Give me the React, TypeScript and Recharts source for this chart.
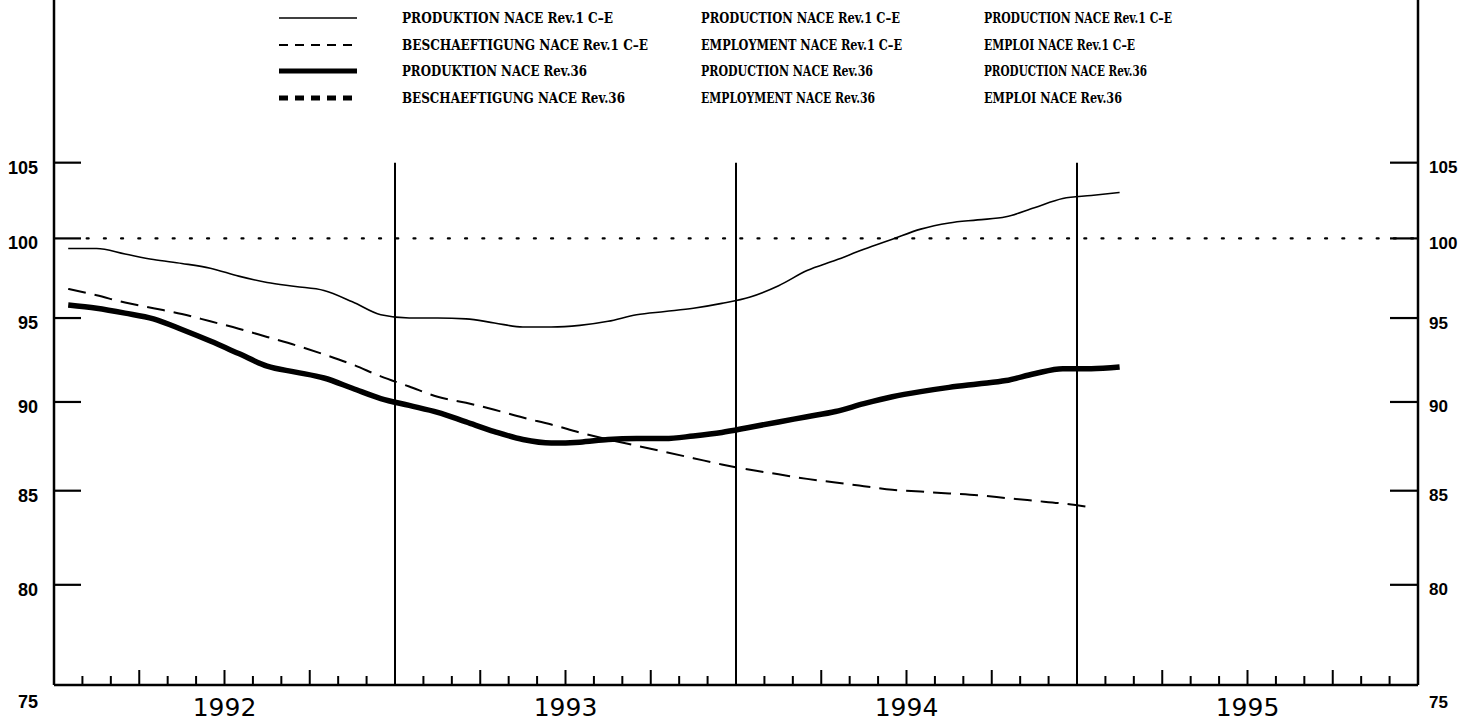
import React from 'react';
import { ComposedChart, Line, XAxis, YAxis, ReferenceLine } from 'recharts';

// ---- data (monthly, Jan 1992 = index 0) ----
const yearLabels = ['1992', '1993', '1994', '1995'];
const yTicks = [75, 80, 85, 90, 95, 100, 105];

const prodRev1 = [
  99.35, 99.35, 99.0, 98.65, 98.4, 98.1, 97.6, 97.2, 96.95, 96.7, 96.0, 95.2,
  95.0, 95.0, 94.95, 94.7, 94.45, 94.45, 94.55, 94.8, 95.2, 95.4, 95.6, 95.9,
  96.3, 97.0, 97.95, 98.6, 99.3, 99.95, 100.6, 101.0, 101.2, 101.4, 102.0, 102.6,
  102.8, 103.0,
];
const emplRev1 = [
  96.8, 96.4, 95.95, 95.6, 95.25, 94.8, 94.35, 93.85, 93.35, 92.8, 92.2, 91.5,
  90.9, 90.3, 89.95, 89.55, 89.1, 88.7, 88.25, 87.85, 87.5, 87.15, 86.8, 86.45,
  86.15, 85.9, 85.65, 85.45, 85.25, 85.05, 84.95, 84.85, 84.75, 84.6, 84.45, 84.3,
  84.1,
];
const prodRev36 = [
  95.8, 95.6, 95.3, 94.95, 94.3, 93.6, 92.85, 92.1, 91.75, 91.4, 90.8, 90.2,
  89.8, 89.4, 88.85, 88.3, 87.85, 87.65, 87.7, 87.85, 87.9, 87.9, 88.05, 88.25,
  88.55, 88.85, 89.15, 89.45, 89.9, 90.3, 90.6, 90.85, 91.05, 91.25, 91.65, 91.95,
  91.95, 92.05,
];
const emplRev36: number[] = [];

const legendDE = [
  'PRODUKTION NACE Rev.1 C\u2013E',
  'BESCHAEFTIGUNG NACE Rev.1 C\u2013E',
  'PRODUKTION NACE Rev.36',
  'BESCHAEFTIGUNG NACE Rev.36',
];
const legendEN = [
  'PRODUCTION NACE Rev.1 C\u2013E',
  'EMPLOYMENT NACE Rev.1 C\u2013E',
  'PRODUCTION NACE Rev.36',
  'EMPLOYMENT NACE Rev.36',
];
const legendFR = [
  'PRODUCTION NACE Rev.1 C\u2013E',
  'EMPLOI NACE Rev.1 C\u2013E',
  'PRODUCTION NACE Rev.36',
  'EMPLOI NACE Rev.36',
];

const nMonths = Math.max(prodRev1.length, emplRev1.length, prodRev36.length);
const data = Array.from({ length: nMonths }, (_, i) => ({
  t: i + 0.5,
  prodRev1: prodRev1[i],
  emplRev1: emplRev1[i],
  prodRev36: prodRev36[i],
  emplRev36: emplRev36[i],
}));

const monthTicks = Array.from({ length: 49 }, (_, i) => i);

const W = 1459;
const H = 721;
const Y_DOMAIN: [number, number] = [75, 116.6];

const XTick = (props: any) => {
  const { x, y, payload } = props;
  const v = payload.value as number;
  if (v % 12 === 0) return <g />;
  const major = v % 3 === 0;
  const len = major ? 15 : 9;
  const yr = v % 12 === 6 ? yearLabels[Math.floor(v / 12)] : null;
  return (
    <g>
      <line x1={x} x2={x} y1={y} y2={y - len} stroke="#000" strokeWidth={2} />
      {yr && (
        <text x={x} y={y + 31} textAnchor="middle" fontFamily="DejaVu Sans" fontSize={25} fill="#000">
          {yr}
        </text>
      )}
    </g>
  );
};

const LeftTick = (props: any) => {
  const { x, y, payload } = props;
  const v = payload.value as number;
  const dy = v === 75 ? 17 : 5;
  return (
    <g>
      {v !== 75 && <line x1={x} x2={x + 27} y1={y} y2={y} stroke="#000" strokeWidth={2.2} />}
      <text x={x - 16} y={y + dy} textAnchor="end" dominantBaseline="central" fontFamily="Liberation Sans" fontWeight="bold" fontSize={18} fill="#000">
        {v}
      </text>
    </g>
  );
};

const RightTick = (props: any) => {
  const { x, y, payload } = props;
  const v = payload.value as number;
  const dy = v === 75 ? 17 : 5;
  return (
    <g>
      {v !== 75 && <line x1={x - 28} x2={x} y1={y} y2={y} stroke="#000" strokeWidth={2.2} />}
      <text x={x + 11} y={y + dy} textAnchor="start" dominantBaseline="central" fontFamily="Liberation Sans" fontWeight="bold" fontSize={17} fill="#000">
        {v}
      </text>
    </g>
  );
};

const legendRows = [18, 45, 71, 98];
const col1W = [211, 246, 185, 223];
const col2W = [199, 201, 172, 174];
const col3W = [188, 151, 163, 138];

const LegendOverlay = () => (
  <svg width={W} height={130} style={{ position: 'absolute', left: 0, top: 0 }}>
    <line x1={279} x2={357} y1={legendRows[0]} y2={legendRows[0]} stroke="#000" strokeWidth={1.6} />
    <line x1={279} x2={357} y1={legendRows[1]} y2={legendRows[1]} stroke="#000" strokeWidth={1.8} strokeDasharray="9 7" />
    <line x1={279} x2={357} y1={legendRows[2]} y2={legendRows[2]} stroke="#000" strokeWidth={5} />
    <line x1={279} x2={357} y1={legendRows[3]} y2={legendRows[3]} stroke="#000" strokeWidth={5} strokeDasharray="9 7" />
    {legendRows.map((ry, i) => (
      <g key={i} fontFamily="DejaVu Serif" fontWeight="bold" fontSize={15} fill="#000">
        <text x={402} y={ry} dominantBaseline="central" textLength={col1W[i]} lengthAdjust="spacingAndGlyphs">{legendDE[i]}</text>
        <text x={701} y={ry} dominantBaseline="central" textLength={col2W[i]} lengthAdjust="spacingAndGlyphs">{legendEN[i]}</text>
        <text x={984} y={ry} dominantBaseline="central" textLength={col3W[i]} lengthAdjust="spacingAndGlyphs">{legendFR[i]}</text>
      </g>
    ))}
  </svg>
);

export default function App() {
  return (
    <div style={{ position: 'absolute', left: 0, top: 0, width: W, height: H, background: '#fff' }}>
      <ComposedChart width={W} height={H} data={data} margin={{ top: 0, right: 0, bottom: 0, left: 0 }}>
        <XAxis
          dataKey="t"
          type="number"
          domain={[0, 48]}
          ticks={monthTicks}
          interval={0}
          allowDataOverflow
          height={36}
          tickSize={0}
          tickMargin={0}
          tick={<XTick />}
          axisLine={{ stroke: '#000', strokeWidth: 2.5 }}
          tickLine={false}
        />
        <YAxis
          yAxisId="left"
          orientation="left"
          scale="log"
          type="number"
          domain={Y_DOMAIN}
          ticks={yTicks}
          interval={0}
          allowDataOverflow
          width={54}
          tickSize={0}
          tickMargin={0}
          tick={<LeftTick />}
          axisLine={{ stroke: '#000', strokeWidth: 2.5 }}
          tickLine={false}
        />
        <YAxis
          yAxisId="right"
          orientation="right"
          scale="log"
          type="number"
          domain={Y_DOMAIN}
          ticks={yTicks}
          interval={0}
          allowDataOverflow
          width={41}
          tickSize={0}
          tickMargin={0}
          tick={<RightTick />}
          axisLine={{ stroke: '#000', strokeWidth: 2.5 }}
          tickLine={false}
        />
        <ReferenceLine
          yAxisId="left"
          segment={[{ x: 1.15, y: 100 }, { x: 48, y: 100 }]}
          stroke="#000"
          strokeWidth={2.2}
          strokeDasharray="2 15.2"
          strokeLinecap="round"
        />
        {[12, 24, 36].map((m) => (
          <ReferenceLine
            key={m}
            yAxisId="left"
            segment={[{ x: m, y: 75 }, { x: m, y: 105 }]}
            stroke="#000"
            strokeWidth={2}
          />
        ))}
        <Line yAxisId="left" dataKey="prodRev1" type="monotone" stroke="#000" strokeWidth={1.6} dot={false} isAnimationActive={false} />
        <Line yAxisId="left" dataKey="emplRev1" type="monotone" stroke="#000" strokeWidth={2} strokeDasharray="18 9" dot={false} isAnimationActive={false} />
        <Line yAxisId="left" dataKey="prodRev36" type="monotone" stroke="#000" strokeWidth={5.5} dot={false} isAnimationActive={false} />
        <Line yAxisId="left" dataKey="emplRev36" type="monotone" stroke="#000" strokeWidth={5} strokeDasharray="9 7" dot={false} isAnimationActive={false} />
      </ComposedChart>
      <LegendOverlay />
    </div>
  );
}
